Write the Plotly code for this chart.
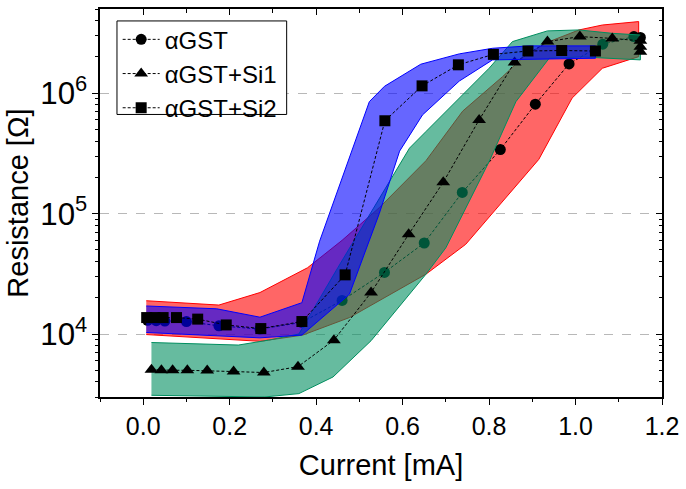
import plotly.graph_objects as go
import math

# ---------------- data ----------------
# aGST (circles)
cur_gst = [0.01, 0.03, 0.05, 0.10, 0.175, 0.27, 0.367, 0.46, 0.558, 0.65, 0.738, 0.826, 0.907, 0.985, 1.063, 1.135, 1.15]
res_gst = [1.30e4, 1.29e4, 1.28e4, 1.27e4, 1.17e4, 1.10e4, 1.25e4, 1.9e4, 3.25e4, 5.7e4, 1.5e5, 3.4e5, 8.1e5, 1.75e6, 2.55e6, 2.95e6, 2.9e6]

# aGST+Si1 (triangles)
cur_si1 = [0.019, 0.042, 0.068, 0.102, 0.148, 0.209, 0.279, 0.358, 0.441, 0.527, 0.614, 0.694, 0.777, 0.859, 0.935, 1.010, 1.085, 1.15, 1.15, 1.15]
res_si1 = [5.06e3, 5.0e3, 5.0e3, 5.0e3, 4.97e3, 4.88e3, 4.79e3, 5.36e3, 8.9e3, 2.21e4, 6.73e4, 1.82e5, 6.0e5, 1.8e6, 2.68e6, 2.95e6, 2.85e6, 2.72e6, 2.43e6, 2.21e6]

# aGST+Si2 (squares)
cur_si2 = [0.008, 0.027, 0.046, 0.077, 0.126, 0.192, 0.272, 0.367, 0.467, 0.559, 0.645, 0.729, 0.81, 0.89, 0.968, 1.046]
res_si2 = [1.37e4, 1.37e4, 1.37e4, 1.37e4, 1.33e4, 1.19e4, 1.11e4, 1.27e4, 3.1e4, 5.9e5, 1.15e6, 1.72e6, 2.1e6, 2.24e6, 2.26e6, 2.24e6]

# spread bands (upper / lower bounds)
band_gst_up_x = [0.007, 0.175, 0.27, 0.38, 0.46, 0.546, 0.654, 0.739, 0.831, 0.885, 0.939, 1.008, 1.062, 1.146]
band_gst_up_y = [1.89e4, 1.74e4, 2.21e4, 3.55e4, 6.0e4, 1.12e5, 2.75e5, 7.1e5, 1.37e6, 2.08e6, 2.68e6, 3.35e6, 3.68e6, 3.93e6]
band_gst_lo_x = [0.007, 0.27, 0.369, 0.477, 0.654, 0.746, 0.915, 0.992, 1.062, 1.146]
band_gst_lo_y = [9.9e3, 8.7e3, 9.8e3, 1.37e4, 3.14e4, 5.56e4, 2.82e5, 9.1e5, 1.61e6, 2.01e6]

band_si1_up_x = [0.019, 0.22, 0.29, 0.36, 0.45, 0.55, 0.616, 0.654, 0.731, 0.80, 0.854, 0.935, 1.008, 1.085, 1.15]
band_si1_up_y = [8.5e3, 8.1e3, 8.9e3, 1.0e4, 3.55e4, 1.41e5, 3.5e5, 4.8e5, 9.1e5, 1.61e6, 2.68e6, 3.29e6, 3.35e6, 3.14e6, 3.04e6]
band_si1_lo_x = [0.019, 0.28, 0.36, 0.439, 0.527, 0.654, 0.70, 0.80, 0.862, 0.939, 1.015, 1.15]
band_si1_lo_y = [3.1e3, 3.0e3, 3.2e3, 4.4e3, 8.8e3, 3.14e4, 5.2e4, 2.7e5, 8.5e5, 1.95e6, 2.0e6, 1.89e6]

band_si2_up_x = [0.007, 0.17, 0.27, 0.367, 0.408, 0.466, 0.523, 0.558, 0.642, 0.731, 0.808, 0.892, 1.046]
band_si2_up_y = [1.71e4, 1.62e4, 1.38e4, 1.82e4, 5.9e4, 2.24e5, 8.5e5, 1.14e6, 1.74e6, 2.12e6, 2.36e6, 2.47e6, 2.47e6]
band_si2_lo_x = [0.007, 0.27, 0.367, 0.477, 0.546, 0.593, 0.646, 0.731, 0.808, 1.046]
band_si2_lo_y = [1.03e4, 9.3e3, 9.8e3, 2.14e4, 1.0e5, 3.3e5, 6.6e5, 1.26e6, 1.89e6, 1.95e6]

names = ["\u03b1GST", "\u03b1GST+Si1", "\u03b1GST+Si2"]

X_RANGE = [-0.1, 1.2]
Y_RANGE = [math.log10(3000), math.log10(5e6)]

FONT = "Liberation Sans, Arial, sans-serif"

# figure geometry (pixels)
W, H = 686, 489
ML, MR, MT, MB = 100, 23, 7, 92
PW, PH = W - ML - MR, H - MT - MB


def px_x(p):
    return (p - ML) / PW


def px_y(p):
    return 1 - (p - MT) / PH


fig = go.Figure()


def band(ux, uy, lx, ly, fill, edge):
    fig.add_trace(go.Scatter(
        x=list(ux) + list(lx)[::-1], y=list(uy) + list(ly)[::-1],
        mode="lines", fill="toself", fillcolor=fill,
        line=dict(color=edge, width=1), showlegend=False, hoverinfo="skip"))


def series(x, y, name, symbol, size):
    fig.add_trace(go.Scatter(
        x=x, y=y, name=name, mode="lines+markers",
        line=dict(color="black", width=1, dash="3px,2px"),
        marker=dict(symbol=symbol, size=size, color="black")))


band(band_gst_up_x, band_gst_up_y, band_gst_lo_x, band_gst_lo_y, "rgba(255,0,0,0.6)", "rgb(255,0,0)")
series(cur_gst, res_gst, names[0], "circle", 11)
band(band_si1_up_x, band_si1_up_y, band_si1_lo_x, band_si1_lo_y, "rgba(0,142,95,0.6)", "rgb(0,142,95)")
series(cur_si1, res_si1, names[1], "triangle-up", 12)
band(band_si2_up_x, band_si2_up_y, band_si2_lo_x, band_si2_lo_y, "rgba(0,0,255,0.6)", "rgb(0,0,255)")
series(cur_si2, res_si2, names[2], "square", 11)

# empty trace that activates the mirrored (top / right) tick axes
fig.add_trace(go.Scatter(x=[], y=[], xaxis="x2", yaxis="y2", showlegend=False, hoverinfo="skip"))

tick_common = dict(tickwidth=1.2, tickcolor="black")

fig.update_layout(
    width=W, height=H,
    margin=dict(l=ML, r=MR, t=MT, b=MB),
    paper_bgcolor="white", plot_bgcolor="white",
    font=dict(family=FONT, color="black", size=25),
    showlegend=True,
    legend=dict(x=px_x(117.7), y=px_y(15.3), xanchor="left", yanchor="top",
                bgcolor="rgba(0,0,0,0)", borderwidth=0,
                font=dict(size=24, family=FONT), itemwidth=37,
                tracegroupgap=0),
    shapes=[dict(type="rect", xref="paper", yref="paper",
                 x0=px_x(117), x1=px_x(287), y0=px_y(113), y1=px_y(19),
                 fillcolor="white", line=dict(color="black", width=1), layer="above")],
    xaxis=dict(
        range=X_RANGE, dtick=0.2, tick0=0, tickformat=".1f",
        showgrid=False, zeroline=False,
        showline=True, linecolor="black", linewidth=1.5, mirror=True,
        ticks="outside", ticklen=6, **tick_common,
        minor=dict(dtick=0.1, ticks="outside", ticklen=3.5, showgrid=False, **tick_common),
        tickfont=dict(size=25, family=FONT),
        title=dict(text="Current [mA]", font=dict(size=29, family=FONT), standoff=16),
    ),
    yaxis=dict(
        type="log", range=Y_RANGE, dtick=1, exponentformat="power",
        showgrid=True, gridcolor="#b8b8b8", griddash="dash", gridwidth=1,
        zeroline=False,
        showline=True, linecolor="black", linewidth=1.5, mirror=True,
        ticks="outside", ticklen=6, **tick_common,
        minor=dict(dtick="D1", ticks="outside", ticklen=3.5, showgrid=False, **tick_common),
        tickfont=dict(size=25, family=FONT),
        title=dict(text="Resistance [\u03a9]", font=dict(size=29, family=FONT), standoff=3),
    ),
    xaxis2=dict(
        overlaying="x", side="top", anchor="y2", range=X_RANGE, dtick=0.2, tick0=0,
        showticklabels=False, showgrid=False, zeroline=False, showline=False,
        ticks="inside", ticklen=6, **tick_common,
        minor=dict(dtick=0.1, ticks="inside", ticklen=3.5, showgrid=False, **tick_common),
    ),
    yaxis2=dict(
        overlaying="y", side="right", anchor="x2", type="log", range=Y_RANGE, dtick=1,
        showticklabels=False, showgrid=False, zeroline=False, showline=False,
        ticks="inside", ticklen=6, **tick_common,
        minor=dict(dtick="D1", ticks="inside", ticklen=3.5, showgrid=False, **tick_common),
    ),
)

fig.write_html("out.html", config={"displayModeBar": False},
               post_script="document.body.style.margin='0';document.body.style.padding='0';")
